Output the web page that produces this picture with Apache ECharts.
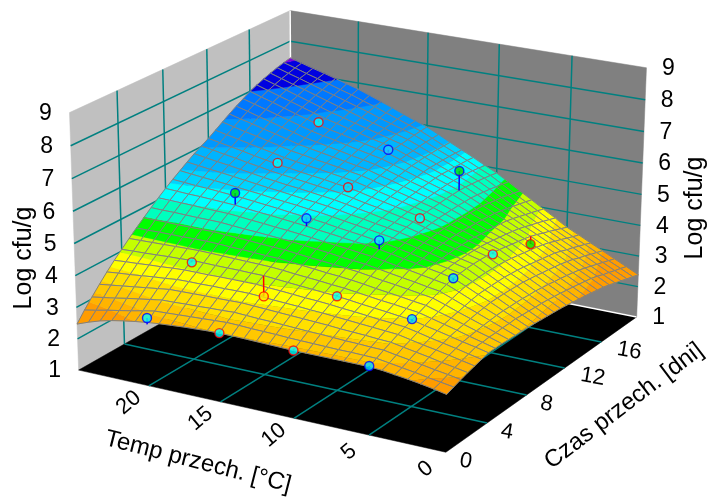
<!DOCTYPE html>
<html><head><meta charset="utf-8">
<style>html,body{margin:0;padding:0;background:#fff}#c{width:707px;height:498px}</style>
<script src="https://cdn.jsdelivr.net/npm/echarts@6/dist/echarts.min.js"></script>
</head><body><div id="c"></div>
<script>
var tempTicks=[0,5,10,15,20];
var dayTicks=[0,4,8,12,16];
var zTicks=[1,2,3,4,5,6,7,8,9];
var tempMax=25, dayMax=20, zMin=1, zMax=9;
var meshSteps=30;
var surfaceZ=[
[2.76,2.84,2.91,2.97,3.02,3.07,3.10,3.10,3.10,3.10,3.10,3.10,3.10,3.11,3.12,3.13,3.14,3.15,3.15,3.14,3.12,3.10,3.07,3.04,3.00,2.95,2.89,2.82,2.73,2.61,2.47],
[2.84,2.90,2.96,3.03,3.09,3.15,3.21,3.22,3.23,3.23,3.24,3.25,3.26,3.27,3.29,3.30,3.31,3.33,3.34,3.32,3.30,3.28,3.26,3.24,3.22,3.15,3.07,3.00,2.93,2.85,2.78],
[2.92,2.99,3.05,3.12,3.19,3.25,3.32,3.33,3.35,3.36,3.38,3.40,3.41,3.43,3.45,3.47,3.48,3.50,3.52,3.50,3.49,3.47,3.46,3.44,3.43,3.37,3.31,3.25,3.18,3.12,3.06],
[2.99,3.06,3.13,3.21,3.28,3.35,3.42,3.44,3.47,3.49,3.51,3.54,3.56,3.58,3.60,3.62,3.64,3.66,3.68,3.67,3.66,3.66,3.65,3.64,3.63,3.58,3.53,3.48,3.43,3.38,3.33],
[3.05,3.13,3.21,3.29,3.36,3.44,3.52,3.55,3.58,3.61,3.64,3.67,3.70,3.72,3.75,3.77,3.79,3.82,3.84,3.84,3.83,3.83,3.82,3.82,3.81,3.77,3.74,3.70,3.66,3.63,3.59],
[3.11,3.19,3.28,3.36,3.44,3.53,3.61,3.65,3.68,3.72,3.76,3.79,3.83,3.86,3.88,3.91,3.94,3.96,3.99,3.99,3.99,3.99,3.98,3.98,3.98,3.96,3.93,3.91,3.88,3.86,3.83],
[3.17,3.26,3.34,3.43,3.52,3.60,3.69,3.73,3.78,3.82,3.86,3.91,3.95,3.98,4.01,4.04,4.07,4.10,4.13,4.13,4.14,4.14,4.14,4.15,4.15,4.13,4.12,4.10,4.08,4.07,4.05],
[3.17,3.27,3.37,3.48,3.58,3.68,3.78,3.83,3.88,3.92,3.97,4.02,4.07,4.10,4.14,4.17,4.20,4.24,4.27,4.28,4.29,4.30,4.31,4.32,4.33,4.32,4.31,4.30,4.29,4.28,4.27],
[3.17,3.29,3.40,3.52,3.64,3.75,3.87,3.92,3.98,4.03,4.08,4.14,4.19,4.23,4.26,4.30,4.34,4.37,4.41,4.42,4.44,4.46,4.47,4.49,4.50,4.50,4.49,4.49,4.49,4.48,4.48],
[3.16,3.29,3.43,3.56,3.69,3.83,3.96,4.02,4.08,4.14,4.19,4.25,4.31,4.35,4.39,4.43,4.46,4.50,4.54,4.56,4.58,4.61,4.63,4.65,4.67,4.67,4.67,4.67,4.68,4.68,4.68],
[3.15,3.30,3.45,3.60,3.74,3.89,4.04,4.10,4.17,4.23,4.29,4.36,4.42,4.46,4.50,4.55,4.59,4.63,4.67,4.70,4.73,4.76,4.78,4.81,4.84,4.85,4.85,4.86,4.87,4.87,4.88],
[3.14,3.30,3.47,3.63,3.79,3.96,4.12,4.19,4.26,4.33,4.39,4.46,4.53,4.57,4.62,4.66,4.70,4.75,4.79,4.83,4.86,4.90,4.93,4.97,5.00,5.01,5.02,5.04,5.05,5.06,5.07],
[3.13,3.31,3.48,3.66,3.83,4.01,4.18,4.26,4.33,4.41,4.48,4.56,4.63,4.68,4.72,4.77,4.82,4.86,4.91,4.95,4.99,5.03,5.06,5.10,5.14,5.16,5.18,5.20,5.21,5.23,5.25],
[3.11,3.29,3.47,3.66,3.84,4.02,4.20,4.28,4.36,4.44,4.52,4.60,4.68,4.73,4.79,4.84,4.89,4.95,5.00,5.04,5.08,5.13,5.17,5.21,5.25,5.28,5.31,5.34,5.36,5.39,5.42],
[3.09,3.28,3.47,3.66,3.84,4.03,4.22,4.31,4.39,4.48,4.56,4.65,4.73,4.79,4.85,4.91,4.97,5.03,5.09,5.13,5.18,5.22,5.26,5.31,5.35,5.39,5.43,5.47,5.50,5.54,5.58],
[3.07,3.26,3.46,3.65,3.84,4.04,4.23,4.32,4.41,4.51,4.60,4.69,4.78,4.85,4.91,4.98,5.04,5.11,5.17,5.22,5.26,5.31,5.36,5.40,5.45,5.50,5.55,5.60,5.64,5.69,5.74],
[3.05,3.25,3.44,3.64,3.84,4.03,4.23,4.33,4.43,4.53,4.62,4.72,4.82,4.89,4.96,5.04,5.11,5.18,5.25,5.30,5.35,5.40,5.44,5.49,5.54,5.60,5.66,5.72,5.77,5.83,5.89],
[3.03,3.23,3.43,3.63,3.82,4.02,4.22,4.33,4.43,4.54,4.65,4.75,4.86,4.94,5.02,5.10,5.17,5.25,5.33,5.38,5.43,5.48,5.53,5.58,5.63,5.70,5.76,5.83,5.89,5.96,6.02],
[3.00,3.20,3.40,3.60,3.80,4.00,4.20,4.32,4.43,4.55,4.67,4.78,4.90,4.98,5.07,5.15,5.23,5.32,5.40,5.45,5.51,5.56,5.61,5.67,5.72,5.79,5.86,5.94,6.01,6.08,6.15],
[2.97,3.17,3.37,3.57,3.77,3.97,4.17,4.30,4.42,4.55,4.67,4.80,4.92,5.01,5.10,5.20,5.29,5.38,5.47,5.53,5.59,5.65,5.70,5.76,5.82,5.90,5.98,6.06,6.14,6.22,6.30],
[2.93,3.13,3.33,3.53,3.73,3.93,4.13,4.27,4.40,4.54,4.67,4.81,4.94,5.04,5.14,5.24,5.34,5.44,5.54,5.60,5.67,5.73,5.79,5.86,5.92,6.01,6.10,6.19,6.27,6.36,6.45],
[2.90,3.10,3.30,3.50,3.69,3.89,4.09,4.24,4.38,4.53,4.67,4.82,4.96,5.07,5.17,5.28,5.39,5.49,5.60,5.67,5.74,5.81,5.88,5.95,6.02,6.12,6.22,6.31,6.41,6.50,6.60],
[2.86,3.06,3.26,3.46,3.65,3.85,4.05,4.21,4.36,4.52,4.67,4.83,4.98,5.09,5.21,5.32,5.43,5.55,5.66,5.74,5.81,5.89,5.96,6.04,6.11,6.22,6.32,6.43,6.53,6.64,6.74],
[2.82,3.02,3.22,3.42,3.61,3.81,4.01,4.17,4.34,4.50,4.66,4.83,4.99,5.11,5.23,5.35,5.48,5.60,5.72,5.80,5.88,5.96,6.05,6.13,6.21,6.32,6.43,6.54,6.65,6.76,6.87],
[2.78,2.98,3.17,3.37,3.57,3.76,3.96,4.13,4.31,4.48,4.65,4.83,5.00,5.13,5.26,5.39,5.52,5.65,5.78,5.87,5.95,6.04,6.13,6.21,6.30,6.42,6.53,6.65,6.77,6.88,7.00],
[2.72,2.92,3.11,3.31,3.50,3.70,3.89,4.07,4.26,4.44,4.62,4.81,4.99,5.13,5.27,5.41,5.54,5.68,5.82,5.92,6.01,6.11,6.20,6.30,6.39,6.51,6.63,6.75,6.86,6.98,7.10],
[2.65,2.84,3.04,3.23,3.42,3.62,3.81,4.00,4.20,4.39,4.58,4.78,4.97,5.12,5.26,5.41,5.56,5.70,5.85,5.95,6.06,6.16,6.26,6.37,6.47,6.59,6.71,6.83,6.95,7.07,7.19],
[2.59,2.78,2.97,3.17,3.36,3.55,3.74,3.94,4.14,4.34,4.55,4.75,4.95,5.11,5.26,5.42,5.57,5.73,5.88,5.99,6.11,6.22,6.33,6.45,6.56,6.68,6.80,6.92,7.03,7.15,7.27],
[2.52,2.71,2.90,3.09,3.28,3.47,3.66,3.87,4.08,4.29,4.50,4.71,4.92,5.09,5.25,5.42,5.58,5.75,5.91,6.03,6.15,6.27,6.40,6.52,6.64,6.76,6.87,6.99,7.11,7.22,7.34],
[2.46,2.65,2.83,3.02,3.21,3.39,3.58,3.80,4.02,4.24,4.45,4.67,4.89,5.06,5.24,5.41,5.58,5.76,5.93,6.06,6.19,6.33,6.46,6.59,6.72,6.83,6.95,7.06,7.17,7.29,7.40],
[2.39,2.58,2.76,2.95,3.13,3.32,3.50,3.73,3.95,4.18,4.40,4.63,4.85,5.03,5.22,5.40,5.58,5.77,5.95,6.09,6.23,6.38,6.52,6.66,6.80,6.91,7.02,7.13,7.23,7.34,7.45]
];
var bandLevels=[2.95,3.15,3.4,3.7,4.0,4.35,4.7,5.05,5.35,5.6,6.0,6.5,7.0,7.4];
var bandColors=['#ff9c00','#ffb400','#ffc800','#ffe000','#ffff00','#c4ff00','#00ff00','#00ffbe','#00ffff','#00d4ff','#00b4ff','#0098ff','#0078ff','#0000e0','#8000e0'];
var pointTemp=[20,20,20,20,20,15,15,15,15,15,10,10,10,10,10,5,5,5,5,5];
var pointDays=[0,4,8,12,16,0,4,8,12,16,0,4,8,12,16,0,4,8,12,16];
var pointZ=[3.14,4.09,5.53,5.77,6.39,3.15,3.48,5.16,5.41,5.90,3.10,3.95,4.91,4.85,5.63,3.12,3.72,4.18,4.15,3.71];
var pointFit=[2.94,4.15,5.16,5.82,6.45,3.20,4.13,4.91,5.46,5.80,3.15,4.00,4.63,4.95,5.00,3.05,3.64,4.10,4.22,3.96];
var pointFill=['#00ffff','#00ffff','#00e000','#00ffff','#00ffff','#00ffff','#ffe600','#10d0ff','#00e0ff','#20c8ff','#00ffff','#00ffff','#10e8ff','#00ffff','#00e000','#00e0ff','#00e0ff','#00e0ff','#00ffff','#00e000'];

/* frame corners of the 3D box on the page: [T, days, z, pageX, pageY] */
var frameAnchors=[[0,0,1,446,453],[25,0,1,79,369],[0,20,1,637,316],[25,20,1,291,250],[25,0,9,69,113],[25,20,9,291,10],[0,20,9,646,68]];

function solve(M,b){var n=b.length,i,j,k;for(i=0;i<n;i++){var p=i;for(j=i+1;j<n;j++)if(Math.abs(M[j][i])>Math.abs(M[p][i]))p=j;
 var t=M[i];M[i]=M[p];M[p]=t;t=b[i];b[i]=b[p];b[p]=t;
 for(j=i+1;j<n;j++){var f=M[j][i]/M[i][i];for(k=i;k<n;k++)M[j][k]-=f*M[i][k];b[j]-=f*b[i];}}
 var x=new Array(n);for(i=n-1;i>=0;i--){var s=b[i];for(k=i+1;k<n;k++)s-=M[i][k]*x[k];x[i]=s/M[i][i];}return x;}
function norm3(T,d,z){return [T/tempMax,d/dayMax,(z-zMin)/(zMax-zMin)];}
var P=(function(){var rows=[],rhs=[];frameAnchors.forEach(function(a){var q=norm3(a[0],a[1],a[2]),x=a[3]/500,y=a[4]/500;
 rows.push([q[0],q[1],q[2],1,0,0,0,0,-x*q[0],-x*q[1],-x*q[2]]);rhs.push(x);
 rows.push([0,0,0,0,q[0],q[1],q[2],1,-y*q[0],-y*q[1],-y*q[2]]);rhs.push(y);});
 var N=[],B=[],i,j,r;for(i=0;i<11;i++){N.push(new Array(11).fill(0));B.push(0);}
 for(r=0;r<rows.length;r++)for(i=0;i<11;i++){B[i]+=rows[r][i]*rhs[r];for(j=0;j<11;j++)N[i][j]+=rows[r][i]*rows[r][j];}
 return solve(N,B);})();
function project(T,d,z){var q=norm3(T,d,z),w=P[8]*q[0]+P[9]*q[1]+P[10]*q[2]+1;
 return [500*(P[0]*q[0]+P[1]*q[1]+P[2]*q[2]+P[3])/w,500*(P[4]*q[0]+P[5]*q[1]+P[6]*q[2]+P[7])/w];}

var wallData=[
 {c:[[25,0,1],[25,0,9],[25,20,9],[25,20,1]],color:'#c0c0c0'},
 {c:[[25,20,1],[25,20,9],[0,20,9],[0,20,1]],color:'#808080'},
 {c:[[0,0,1],[25,0,1],[25,20,1],[0,20,1]],color:'#000000'}];
var lineData=[];
function addLine(a,b,color,w){lineData.push({a:a,b:b,color:color,w:w});}
var teal='#008080';
zTicks.slice(1,-1).forEach(function(z){addLine([25,0,z],[25,20,z],teal,1.5);addLine([25,20,z],[0,20,z],teal,1.5);});
dayTicks.slice(1).forEach(function(d){addLine([25,d,1],[25,d,9],teal,1.5);addLine([0,d,1],[25,d,1],teal,1.5);});
tempTicks.slice(1).forEach(function(T){addLine([T,20,1],[T,20,9],teal,1.5);addLine([T,0,1],[T,20,1],teal,1.5);});
addLine([25,20,1],[25,20,9],'#ffffff',1.5);
addLine([25,20,1],[0,20,1],'#ffffff',1.5);

var cells=[];
(function(){for(var s=2*meshSteps-2;s>=0;s--)for(var i=meshSteps-1;i>=0;i--){var j=s-i;if(j<0||j>=meshSteps)continue;cells.push([i,j]);}})();
function vertex(i,j){var T=i*tempMax/meshSteps,d=j*dayMax/meshSteps,z=surfaceZ[j][i],p=project(T,d,z);return {x:p[0],y:p[1],z:z};}
function clipBand(poly,lim,keepAbove){var out=[];for(var i=0;i<poly.length;i++){var a=poly[i],b=poly[(i+1)%poly.length];
 var ia=keepAbove?a.z>=lim:a.z<=lim,ib=keepAbove?b.z>=lim:b.z<=lim;if(ia)out.push(a);
 if(ia!==ib){var t=(lim-a.z)/(b.z-a.z);out.push({x:a.x+(b.x-a.x)*t,y:a.y+(b.y-a.y)*t,z:lim});}}return out;}

var option={animation:false,backgroundColor:'#ffffff',
 grid:{left:0,right:0,top:0,bottom:0},
 xAxis:{type:'value',min:0,max:707,show:false},
 yAxis:{type:'value',min:0,max:498,inverse:true,show:false},
 graphic:{elements:[]},
 series:[
 {type:'custom',name:'walls',z:1,clip:false,silent:true,data:wallData.map(function(w,i){return [i];}),
  renderItem:function(params,api){var w=wallData[params.dataIndex];
   return {type:'polygon',shape:{points:w.c.map(function(c){return api.coord(project(c[0],c[1],c[2]));})},style:{fill:w.color,stroke:w.color,lineWidth:0.5}};}},
 {type:'custom',name:'gridlines',z:2,clip:false,silent:true,data:lineData.map(function(l,i){return [i];}),
  renderItem:function(params,api){var l=lineData[params.dataIndex],a=api.coord(project(l.a[0],l.a[1],l.a[2])),b=api.coord(project(l.b[0],l.b[1],l.b[2]));
   return {type:'line',shape:{x1:a[0],y1:a[1],x2:b[0],y2:b[1]},style:{stroke:l.color,lineWidth:l.w}};}},
 {type:'custom',name:'surface',z:3,clip:false,silent:true,progressive:0,data:cells.map(function(c){return [c[0],c[1]];}),
  renderItem:function(params,api){var c=cells[params.dataIndex],i=c[0],j=c[1];
   var quad=[vertex(i,j),vertex(i+1,j),vertex(i+1,j+1),vertex(i,j+1)];
   var ch=[];
   for(var k=0;k<bandColors.length;k++){var poly=quad;
    if(k>0)poly=clipBand(poly,bandLevels[k-1],true);
    if(poly.length&&k<bandLevels.length)poly=clipBand(poly,bandLevels[k],false);
    if(poly.length>2)ch.push({type:'polygon',shape:{points:poly.map(function(p){return api.coord([p.x,p.y]);})},style:{fill:bandColors[k],stroke:bandColors[k],lineWidth:0.4}});}
   ch.push({type:'polygon',shape:{points:quad.map(function(p){return api.coord([p.x,p.y]);})},style:{fill:'none',stroke:'#808080',lineWidth:1}});
   return {type:'group',children:ch};}},
 {type:'custom',name:'stems',z:4,clip:false,silent:true,data:pointZ.map(function(z,i){return [i];}),
  renderItem:function(params,api){var i=params.dataIndex,a=api.coord(project(pointTemp[i],pointDays[i],pointZ[i])),b=api.coord(project(pointTemp[i],pointDays[i],pointFit[i]));
   return {type:'line',shape:{x1:a[0],y1:a[1],x2:b[0],y2:b[1]},style:{stroke:pointZ[i]>=pointFit[i]?'#0000ff':'#ff0000',lineWidth:1.5}};}},
 {type:'scatter',name:'points',z:5,clip:false,silent:true,symbol:'circle',symbolSize:9,
  data:pointZ.map(function(z,i){return {value:project(pointTemp[i],pointDays[i],z),itemStyle:{color:pointFill[i],borderColor:z>=pointFit[i]?'#0000ff':'#ff0000',borderWidth:1.4}};})}
 ]};

var font='"Liberation Sans",Arial,sans-serif';
function label(text,x,y,rot,size){option.graphic.elements.push({type:'text',x:x,y:y,rotation:rot,z:10,silent:true,
 style:{text:String(text),x:0,y:0,align:'center',verticalAlign:'middle',fill:'#000',font:size+'px '+font}});}
zTicks.forEach(function(z){var a=project(25,0,z),b=project(0,20,z);label(z,a[0]-24,a[1]+1,0,23);label(z,b[0]+22,b[1]+1,0,23);});
tempTicks.forEach(function(T){var a=project(T,0,1);label(T,a[0]-20,a[1]+17,0.7,22);});
dayTicks.forEach(function(d){var a=project(0,d,1),two=String(d).length>1;label(d,a[0]+(two?28:20),a[1]+9,-0.17,22);});
label('Temp przech. [°C]',198,462,-0.25,24);
label('Czas przech. [dni]',624,406,0.65,24);
label('Log cfu/g',24,258,Math.PI/2,25);
label('Log cfu/g',695,208,Math.PI/2,25);
echarts.init(document.getElementById('c'),null,{renderer:'canvas'}).setOption(option);
</script></body></html>
